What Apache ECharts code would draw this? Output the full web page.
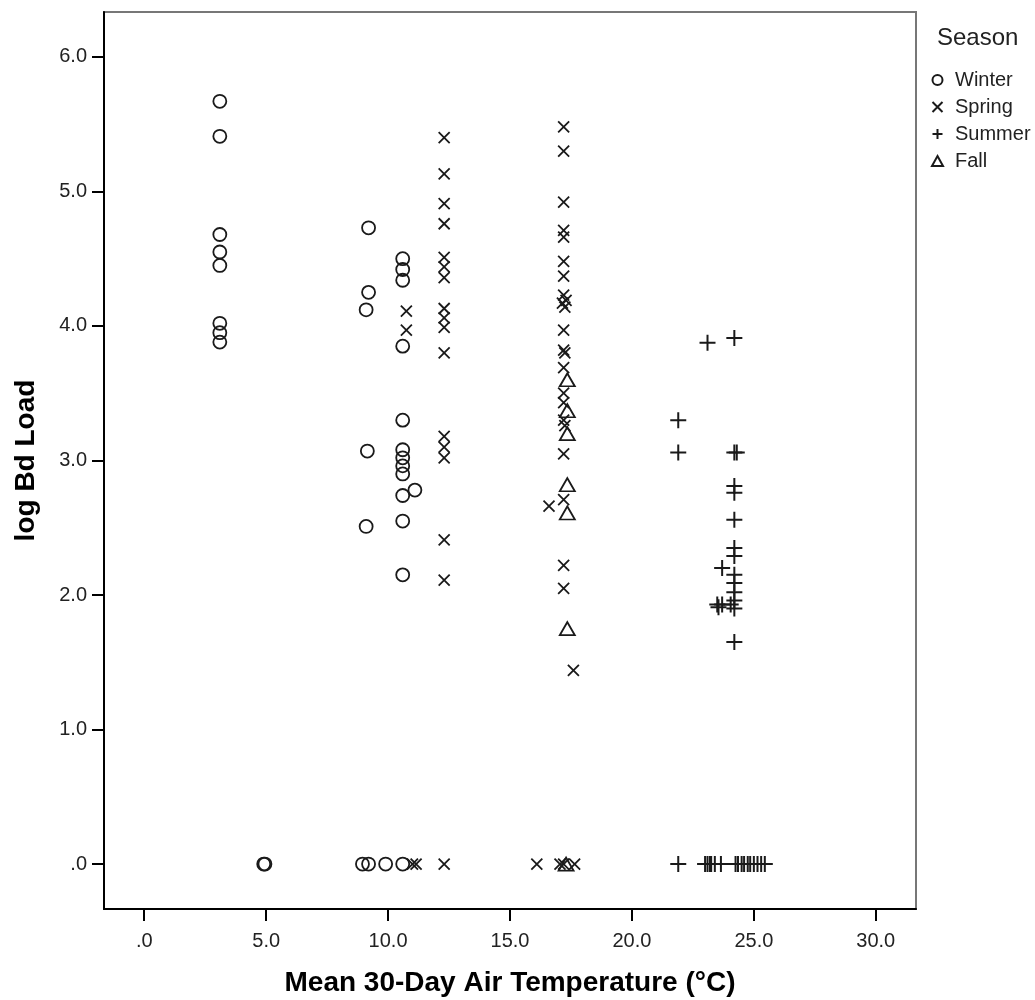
<!DOCTYPE html>
<html><head><meta charset="utf-8">
<script src="https://cdn.jsdelivr.net/npm/echarts@6/dist/echarts.min.js"></script>
<style>html,body{margin:0;padding:0;background:#fff}#c{width:1035px;height:1000px}</style>
</head><body><div id="c"></div>
<script>
const seasons = ['Winter', 'Spring', 'Summer', 'Fall'];
const xTicks = [0, 5, 10, 15, 20, 25, 30];
const yTicks = [0, 1, 2, 3, 4, 5, 6];
const xTitle = 'Mean 30-Day Air Temperature (°C)';
const yTitle = 'log Bd Load';
const legendTitle = 'Season';

const winter = [
  [3.1,5.67],[3.1,5.41],[3.1,4.68],[3.1,4.55],[3.1,4.45],[3.1,4.02],[3.1,3.95],[3.1,3.88],
  [4.9,0],[4.95,0],
  [9.2,4.73],[9.2,4.25],[9.1,4.12],[9.15,3.07],[9.1,2.51],
  [10.6,4.50],[10.6,4.42],[10.6,4.34],[10.6,3.85],[10.6,3.30],[10.6,3.08],[10.6,3.02],[10.6,2.96],[10.6,2.90],[10.6,2.74],[10.6,2.55],[10.6,2.15],[11.1,2.78],
  [8.95,0],[9.2,0],[9.9,0],[10.6,0]
];
const spring = [
  [10.75,4.11],[10.75,3.97],
  [12.3,5.40],[12.3,5.13],[12.3,4.91],[12.3,4.76],[12.3,4.51],[12.3,4.44],[12.3,4.36],[12.3,4.13],[12.3,4.06],[12.3,3.99],[12.3,3.80],[12.3,3.18],[12.3,3.10],[12.3,3.02],[12.3,2.41],[12.3,2.11],
  [17.2,5.48],[17.2,5.30],[17.2,4.92],[17.2,4.71],[17.2,4.66],[17.2,4.48],[17.2,4.37],[17.2,4.23],[17.3,4.19],[17.15,4.17],[17.25,4.14],[17.2,3.97],[17.2,3.82],[17.25,3.80],[17.2,3.69],[17.2,3.50],[17.2,3.43],[17.2,3.30],[17.25,3.26],[17.2,3.05],[17.2,2.71],[16.6,2.66],[17.2,2.22],[17.2,2.05],[17.6,1.44],
  [11.0,0],[11.15,0],[12.3,0],[16.1,0],[17.05,0],[17.2,0],[17.65,0]
];
const summer = [
  [23.1,3.875],[24.2,3.91],[21.9,3.30],[21.9,3.06],[24.2,3.06],[24.3,3.06],[24.2,2.81],[24.2,2.76],[24.2,2.56],[24.2,2.35],[24.2,2.29],[23.7,2.20],[24.2,2.15],[24.2,2.09],[24.2,2.02],[24.2,1.96],[24.2,1.90],[23.7,1.93],[23.5,1.93],[23.55,1.91],[24.05,1.93],[24.2,1.65],
  [21.9,0],[23.0,0],[23.1,0],[23.2,0],[23.25,0],[23.4,0],[23.65,0],[24.25,0],[24.35,0],[24.5,0],[24.6,0],[24.75,0],[24.85,0],[25.0,0],[25.15,0],[25.3,0],[25.45,0]
];
const fall = [
  [17.35,3.60],[17.35,3.37],[17.35,3.20],[17.35,2.82],[17.35,2.61],[17.35,1.75],[17.3,0]
];

const INK = '#1a1a1a';
const FONT = 'Liberation Sans, Arial, sans-serif';
const fmt = v => (v === 0 ? '.0' : v.toFixed(1));

const symbols = {
  Winter: { symbol: 'circle', size: 13, data: winter },
  Spring: { symbol: 'path://M0,0L10,10M10,0L0,10', size: 11, data: spring },
  Summer: { symbol: 'path://M5,0L5,10M0,5L10,5', size: 16, data: summer },
  Fall: { symbol: 'triangle', size: [15, 13], data: fall }
};

const chart = echarts.init(document.getElementById('c'), null, { renderer: 'canvas' });
chart.setOption({
  animation: false,
  backgroundColor: '#fff',
  title: {
    text: legendTitle, left: 932, top: 21,
    textStyle: { fontFamily: FONT, fontSize: 24, fontWeight: 'normal', color: '#222' }
  },
  legend: {
    orient: 'vertical', left: 926, top: 65,
    itemWidth: 11, itemHeight: 10, itemGap: 7,
    data: seasons,
    textStyle: { fontFamily: FONT, fontSize: 20, color: '#222', lineHeight: 20, padding: [0, 0, 0, 7] },
    selectedMode: false
  },
  grid: {
    left: 104, top: 12, right: 119, bottom: 91,
    show: true, borderColor: '#777', borderWidth: 2, backgroundColor: 'transparent',
    outerBoundsMode: 'none'
  },
  xAxis: {
    type: 'value', min: -1.65, max: 31.65,
    splitLine: { show: false },
    axisLine: { show: true, onZero: false, lineStyle: { color: '#000', width: 2 } },
    axisTick: { show: true, customValues: xTicks, length: 12, lineStyle: { color: '#000', width: 2 } },
    axisLabel: { customValues: xTicks, formatter: fmt, margin: 22, fontSize: 20, color: '#222', fontFamily: FONT },
    name: xTitle, nameLocation: 'middle', nameGap: 60, nameMoveOverlap: false,
    nameTextStyle: { fontSize: 28, fontWeight: 'bold', color: '#000', fontFamily: FONT }
  },
  yAxis: {
    type: 'value', min: -0.334, max: 6.334,
    splitLine: { show: false },
    axisLine: { show: true, onZero: false, lineStyle: { color: '#000', width: 2 } },
    axisTick: { show: true, customValues: yTicks, length: 12, lineStyle: { color: '#000', width: 2 } },
    axisLabel: { customValues: yTicks, formatter: fmt, margin: 17, fontSize: 20, color: '#222', fontFamily: FONT, padding: [5, 0, 0, 0] },
    name: yTitle, nameLocation: 'middle', nameGap: 64, nameRotate: 90, nameMoveOverlap: false,
    nameTextStyle: { fontSize: 28, fontWeight: 'bold', color: '#000', fontFamily: FONT }
  },
  series: seasons.map(s => ({
    name: s, type: 'scatter',
    symbol: symbols[s].symbol, symbolSize: symbols[s].size,
    data: symbols[s].data,
    itemStyle: { color: 'rgba(0,0,0,0)', borderColor: INK, borderWidth: s === 'Summer' ? 2 : 1.8, opacity: 1 },
    emphasis: { disabled: true }
  }))
});
</script></body></html>
